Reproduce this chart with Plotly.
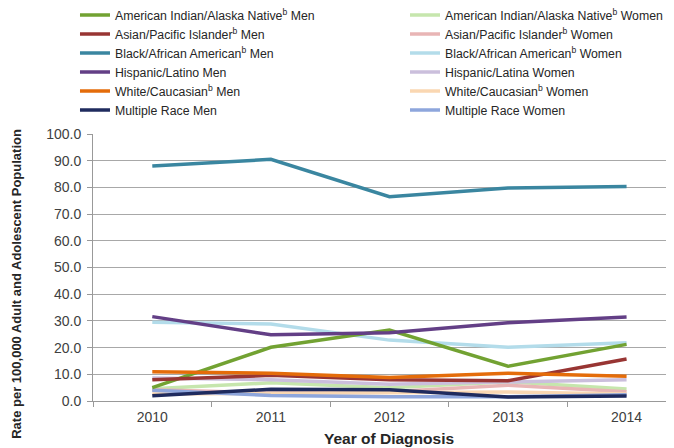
import plotly.graph_objects as go

years = ["2010", "2011", "2012", "2013", "2014"]

aian_men = [5.0, 20.1, 26.6, 13.0, 21.2]
asian_men = [8.0, 9.6, 8.0, 7.6, 15.7]
black_men = [88.0, 90.5, 76.5, 79.8, 80.3]
hisp_men = [31.6, 24.8, 25.6, 29.3, 31.5]
white_men = [11.0, 10.4, 8.8, 10.4, 9.3]
multi_men = [2.0, 4.4, 4.2, 1.5, 1.9]

aian_women = [4.6, 6.8, 5.0, 7.2, 4.5]
asian_women = [4.2, 3.0, 3.5, 5.9, 3.5]
black_women = [29.5, 28.8, 22.8, 20.1, 21.8]
hisp_women = [8.6, 8.0, 6.3, 7.3, 8.0]
white_women = [2.6, 2.8, 3.0, 3.4, 2.6]
multi_women = [4.0, 2.1, 1.6, 1.6, 2.3]

y_ticks = [0, 10, 20, 30, 40, 50, 60, 70, 80, 90, 100]

men = [
    ("American Indian/Alaska Native<sup>b</sup> Men", aian_men, "#72a232"),
    ("Asian/Pacific Islander<sup>b</sup> Men", asian_men, "#983533"),
    ("Black/African American<sup>b</sup> Men", black_men, "#3a86a0"),
    ("Hispanic/Latino Men", hisp_men, "#633f86"),
    ("White/Caucasian<sup>b</sup> Men", white_men, "#e46c0a"),
    ("Multiple Race Men", multi_men, "#1f2b5e"),
]
women = [
    ("American Indian/Alaska Native<sup>b</sup> Women", aian_women, "#c6e6ad"),
    ("Asian/Pacific Islander<sup>b</sup> Women", asian_women, "#e8b5b5"),
    ("Black/African American<sup>b</sup> Women", black_women, "#b3dcea"),
    ("Hispanic/Latina Women", hisp_women, "#cbbfdc"),
    ("White/Caucasian<sup>b</sup> Women", white_women, "#fad7b2"),
    ("Multiple Race Women", multi_women, "#8ea6dc"),
]

fig = go.Figure()
# women drawn first (underneath), men on top
for name, vals, col in women:
    fig.add_trace(go.Scatter(x=years, y=vals, mode="lines", name=name,
                             line=dict(color=col, width=3.5), legend="legend2"))
for name, vals, col in men:
    fig.add_trace(go.Scatter(x=years, y=vals, mode="lines", name=name,
                             line=dict(color=col, width=3.5), legend="legend"))

leg_common = dict(
    orientation="v", xanchor="left", yanchor="top", y=1.5,
    font=dict(size=12.3, color="#262626"), itemwidth=30,
    bgcolor="rgba(0,0,0,0)", traceorder="normal",
)

fig.update_layout(
    width=666, height=440,
    margin=dict(l=85, r=0, t=126, b=47, autoexpand=False),
    paper_bgcolor="white", plot_bgcolor="white",
    font=dict(family="Liberation Sans, Arial, sans-serif", color="#404040"),
    showlegend=True,
    legend=dict(x=-0.031, **leg_common),
    legend2=dict(x=0.537, **leg_common),
    xaxis=dict(
        type="category", range=[-0.5, 4.4],
        showline=True, linecolor="#999999", linewidth=1,
        ticks="outside", tickson="boundaries", ticklen=5, tickcolor="#999999",
        ticklabelstandoff=3,
        showgrid=False, tickfont=dict(size=14, color="#404040"),
    ),
    yaxis=dict(
        range=[0, 100], tickvals=y_ticks, tickformat=".1f",
        showline=True, linecolor="#999999", linewidth=1,
        ticks="outside", ticklen=5, tickcolor="#999999",
        ticklabelstandoff=3,
        showgrid=True, gridcolor="#a8a8a8", gridwidth=1,
        zeroline=False, tickfont=dict(size=14, color="#404040"),
    ),
    annotations=[
        dict(text="<b>Rate per 100,000 Adult and Adolescent Population</b>",
             xref="paper", yref="paper", x=-0.133, y=0.438,
             xanchor="center", yanchor="middle", textangle=-90,
             showarrow=False, font=dict(size=13, color="#262626")),
        dict(text="<b>Year of Diagnosis</b>",
             xref="paper", yref="paper", x=0.509, y=-0.1386,
             xanchor="center", yanchor="middle",
             showarrow=False, font=dict(size=15.5, color="#262626")),
    ],
)

fig.write_html("out.html")
